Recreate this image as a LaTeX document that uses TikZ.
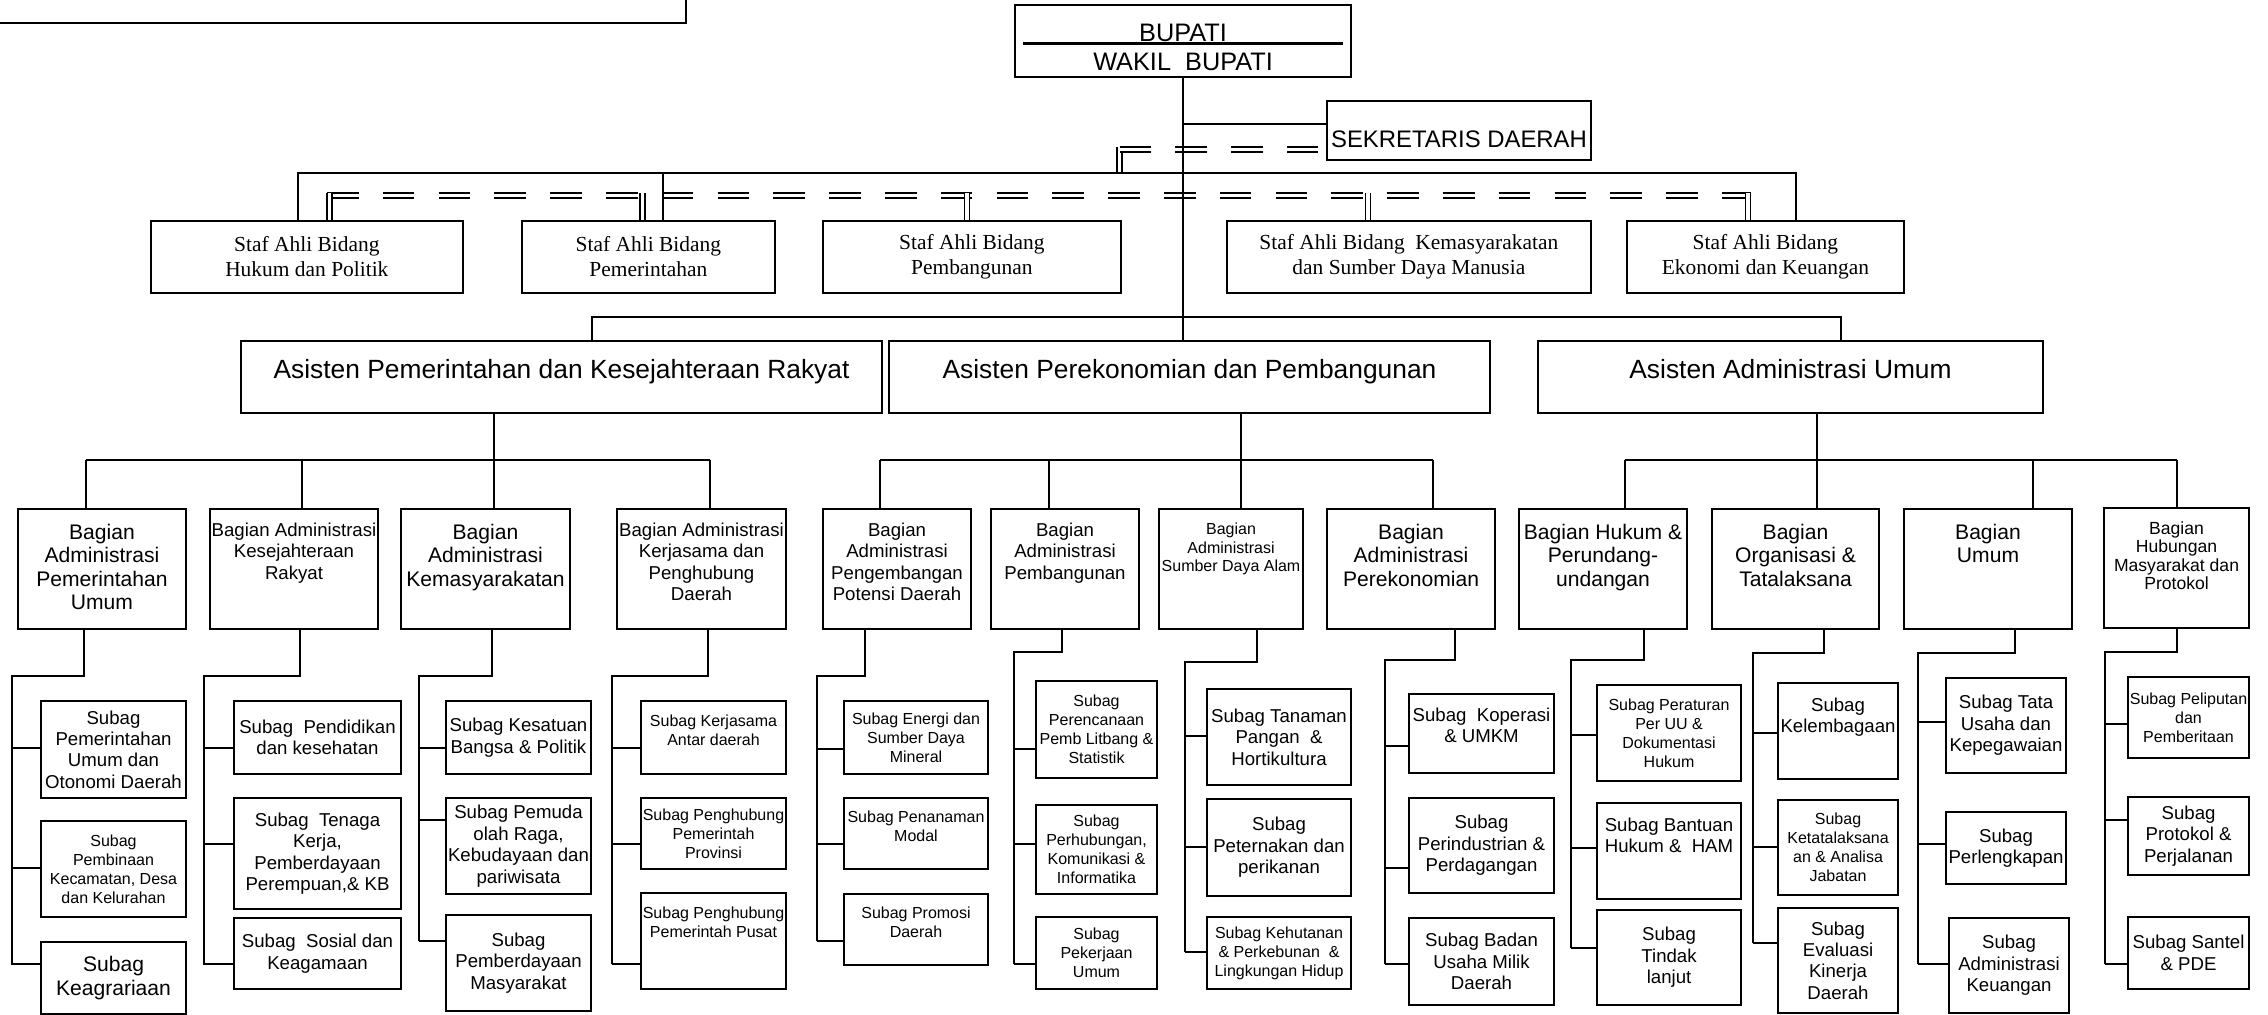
\documentclass[tikz,border=0pt]{standalone}
\usepackage{fontspec}
\setmainfont{Liberation Sans}
\newfontfamily\stafserif{Liberation Serif}
\usetikzlibrary{calc}

\newlength{\px}
\setlength{\px}{0.1mm}
% box text that starts at the top: width, height, first baseline, text
\newcommand{\cellt}[4]{\parbox[c][#2\px][t]{#1\px}{\centering\rule{0pt}{#3\px}#4}}
% bagian -> subag branch: bagian, drop x, turn y, spine x, spine end y, subag/y list
\newcommand{\subbranch}[6]{%
    \draw[link] (#2,0 |- #1.south) -- (#2,#3) -| (#4,#5);
    \foreach \s/\y in {#6} \draw[link] (#4,\y) -- (\s.west |- 0,\y);
}

\begin{document}
\begin{tikzpicture}[x=0.1mm, y=-0.1mm,
    every node/.style={inner sep=0pt},
    box/.style={draw, line width=0.2mm, anchor=north west, align=center},
    wh/.style 2 args={minimum width=#1*0.1mm, minimum height=#2*0.1mm},
    fsm/.style={font=\fontsize{4.55}{5.4}\selectfont},
    fmd/.style={font=\fontsize{5.3}{6.1}\selectfont},
    flg/.style={font=\fontsize{6}{6.7}\selectfont},
    staf/.style={box, line width=0.17mm, font=\stafserif\fontsize{6.1}{7.1}\selectfont},
    link/.style={line width=0.2mm},
    dbl/.style={double, double distance=0.33mm, line width=0.17mm},
    dashdbl/.style={dbl, dash pattern=on 3.15mm off 2.43mm}]
    \useasboundingbox (0,0) rectangle (2268,1014);

    % cut-off box at the top left
    \draw[line width=0.25mm] (-20,-60) rectangle (686,23);

    % Bupati and Sekretaris Daerah
    \node[box, font=\fontsize{7.2}{8.5}\selectfont] (bupati) at (1014,4)
        {\cellt{336}{72}{36}{BUPATI\\WAKIL~~BUPATI}};
    \draw[line width=0.3mm] ($(bupati.north west)+(9,39)$) -- ($(bupati.north east)+(-9,39)$);
    \node[box, font=\fontsize{6.8}{8}\selectfont] (sek) at (1326,100)
        {\cellt{264}{59}{46}{SEKRETARIS DAERAH}};

    % Staf ahli
    \node[staf, wh={312}{72}] (staf1) at (150,220) {Staf Ahli Bidang\\Hukum dan Politik};
    \node[staf, wh={253}{72}] (staf2) at (521,220) {Staf Ahli Bidang\\Pemerintahan};
    \node[staf, wh={298}{72}] (staf3) at (822,220) {Staf Ahli Bidang\\Pembangunan};
    \node[staf, wh={364}{72}] (staf4) at (1226,220) {Staf Ahli Bidang~~Kemasyarakatan\\dan Sumber Daya Manusia};
    \node[staf, wh={277}{72}] (staf5) at (1626,220) {Staf Ahli Bidang\\Ekonomi dan Keuangan};

    % Asisten
    \node[box, font=\fontsize{7.5}{9}\selectfont] (a1) at (240,340)
        {\cellt{641}{72}{37}{Asisten Pemerintahan dan Kesejahteraan Rakyat}};
    \node[box, font=\fontsize{7.5}{9}\selectfont] (a2) at (888,340)
        {\cellt{601}{72}{37}{Asisten Perekonomian dan Pembangunan}};
    \node[box, font=\fontsize{7.5}{9}\selectfont] (a3) at (1537,340)
        {\cellt{505}{72}{37}{Asisten Administrasi Umum}};

    % Bagian
    \node[box, flg] (b1) at (17,508) {\cellt{168}{120}{30}{Bagian\\Administrasi\\Pemerintahan\\Umum}};
    \node[box, fmd] (b2) at (209,508) {\cellt{168}{120}{27.5}{Bagian Administrasi\\Kesejahteraan\\Rakyat}};
    \node[box, flg] (b3) at (400,508) {\cellt{169}{120}{30}{Bagian\\Administrasi\\Kemasyarakatan}};
    \node[box, fmd] (b4) at (616,508) {\cellt{169}{120}{27.5}{Bagian Administrasi\\Kerjasama dan\\Penghubung\\Daerah}};
    \node[box, fmd] (b5) at (822,508) {\cellt{148}{120}{27.5}{Bagian\\Administrasi\\Pengembangan\\Potensi Daerah}};
    \node[box, fmd] (b6) at (990,508) {\cellt{148}{120}{27.5}{Bagian\\Administrasi\\Pembangunan}};
    \node[box, fsm] (b7) at (1158,508) {\cellt{144}{120}{25}{Bagian\\Administrasi\\Sumber Daya Alam}};
    \node[box, flg] (b8) at (1326,508) {\cellt{168}{120}{30}{Bagian\\Administrasi\\Perekonomian}};
    \node[box, flg] (b9) at (1518,508) {\cellt{168}{120}{30}{Bagian Hukum \&\\Perundang-\\undangan}};
    \node[box, flg] (b10) at (1711,508) {\cellt{167}{120}{30}{Bagian\\Organisasi \&\\Tatalaksana}};
    \node[box, flg] (b11) at (1903,508) {\cellt{168}{120}{30}{Bagian\\Umum}};
    \node[box, font=\fontsize{5}{5.3}\selectfont] (b12) at (2103,507) {\cellt{145}{120}{26}{Bagian\\Hubungan\\Masyarakat dan\\Protokol}};

    % Subag under Asisten Pemerintahan dan Kesejahteraan Rakyat
    \node[box, fmd, wh={145}{97}] (sub1a) at (40,700) {Subag\\Pemerintahan\\Umum dan\\Otonomi Daerah};
    \node[box, fsm, wh={145}{96}] (sub1b) at (40,820) {Subag\\Pembinaan\\Kecamatan, Desa\\dan Kelurahan};
    \node[box, flg, wh={145}{72}] (sub1c) at (40,941) {Subag\\Keagrariaan};
    \node[box, fmd, wh={167}{73}] (sub2a) at (233,700) {Subag~~Pendidikan\\dan kesehatan};
    \node[box, fmd, wh={167}{111}] (sub2b) at (233,797) {Subag~~Tenaga\\Kerja,\\Pemberdayaan\\Perempuan,\& KB};
    \node[box, fmd, wh={167}{71}] (sub2c) at (233,917) {Subag~~Sosial dan\\Keagamaan};
    \node[box, fmd, wh={145}{73}] (sub3a) at (445,700) {Subag Kesatuan\\Bangsa \& Politik};
    \node[box, fmd, wh={145}{96}] (sub3b) at (445,797) {Subag Pemuda\\olah Raga,\\Kebudayaan dan\\pariwisata};
    \node[box, fmd, wh={145}{96}] (sub3c) at (445,914) {Subag\\Pemberdayaan\\Masyarakat};
    \node[box, fsm] (sub4a) at (640,700) {\cellt{145}{73}{25}{Subag Kerjasama\\Antar daerah}};
    \node[box, fsm, wh={145}{71}] (sub4b) at (640,797) {Subag Penghubung\\Pemerintah\\Provinsi};
    \node[box, fsm] (sub4c) at (640,892) {\cellt{145}{96}{25.5}{Subag Penghubung\\Pemerintah Pusat}};

    % Subag under Asisten Perekonomian dan Pembangunan
    \node[box, fsm, wh={144}{73}] (sub5a) at (843,700) {Subag Energi dan\\Sumber Daya\\Mineral};
    \node[box, fsm] (sub5b) at (843,797) {\cellt{144}{71}{24}{Subag Penanaman\\Modal}};
    \node[box, fsm] (sub5c) at (843,893) {\cellt{144}{71}{24}{Subag Promosi\\Daerah}};
    \node[box, fsm, wh={121}{97}] (sub6a) at (1035,680) {Subag\\Perencanaan\\Pemb Litbang \&\\Statistik};
    \node[box, fsm, wh={121}{89}] (sub6b) at (1035,804) {Subag\\Perhubungan,\\Komunikasi \&\\Informatika};
    \node[box, fsm, wh={121}{72}] (sub6c) at (1035,916) {Subag\\Pekerjaan\\Umum};
    \node[box, fmd, wh={144}{96}] (sub7a) at (1206,688) {Subag Tanaman\\Pangan~~\&\\Hortikultura};
    \node[box, fmd, wh={144}{97}] (sub7b) at (1206,798) {Subag\\Peternakan dan\\perikanan};
    \node[box, fsm, wh={144}{72}] (sub7c) at (1206,916) {Subag Kehutanan\\\& Perkebunan~~\&\\Lingkungan Hidup};
    \node[box, fmd] (sub8a) at (1408,693) {\cellt{145}{79}{27}{Subag~~Koperasi\\\& UMKM}};
    \node[box, fmd, wh={145}{95}] (sub8b) at (1408,797) {Subag\\Perindustrian \&\\Perdagangan};
    \node[box, fmd, wh={145}{87}] (sub8c) at (1408,917) {Subag Badan\\Usaha Milik\\Daerah};

    % Subag under Asisten Administrasi Umum
    \node[box, fsm, wh={144}{96}] (sub9a) at (1596,684) {Subag Peraturan\\Per UU \&\\Dokumentasi\\Hukum};
    \node[box, fmd] (sub9b) at (1596,802) {\cellt{144}{96}{28}{Subag Bantuan\\Hukum \&~~HAM}};
    \node[box, fmd, wh={144}{95}] (sub9c) at (1596,909) {Subag\\Tindak\\lanjut};
    \node[box, fmd] (sub10a) at (1777,682) {\cellt{120}{96}{28}{Subag\\Kelembagaan}};
    \node[box, fsm, wh={120}{95}] (sub10b) at (1777,799) {Subag\\Ketatalaksana\\an \& Analisa\\Jabatan};
    \node[box, fmd, wh={120}{105}] (sub10c) at (1777,907) {Subag\\Evaluasi\\Kinerja\\Daerah};
    \node[box, fmd, wh={120}{95}] (sub11a) at (1945,677) {Subag Tata\\Usaha dan\\Kepegawaian};
    \node[box, fmd, wh={120}{72}] (sub11b) at (1945,811) {Subag\\Perlengkapan};
    \node[box, fmd, wh={120}{95}] (sub11c) at (1948,917) {Subag\\Administrasi\\Keuangan};
    \node[box, fsm, wh={121}{81}] (sub12a) at (2127,676) {Subag Peliputan\\dan\\Pemberitaan};
    \node[box, fmd, wh={121}{78}] (sub12b) at (2127,796) {Subag\\Protokol \&\\Perjalanan};
    \node[box, fmd, wh={121}{72}] (sub12c) at (2127,916) {Subag Santel\\\& PDE};

    % double dashed lines (staf ahli and sekretaris)
    \draw[dbl] (1119.5,147) -- (1119.5,173);
    \draw[dashdbl] (1119.5,149.5) -- (sek.west |- 0,149.5);
    \draw[dashdbl] (327,195.5) -- (1750.5,195.5);
    \foreach \s/\x in {staf1/329.5, staf2/642.5, staf3/967, staf4/1368, staf5/1748}
        \draw[dbl] (\x,193) -- (\x,0 |- \s.north);

    % solid line to staf ahli
    \coordinate (stafL) at (298,173);
    \coordinate (stafR) at (1796,173);
    \draw[link] (stafL |- staf1.north) -- (stafL) -- (stafR) -- (stafR |- staf5.north);
    \draw[link] (663,173) -- (663,0 |- staf2.north);

    % main line and sekretaris
    \draw[link] (bupati.south) -- (bupati.south |- a2.north);
    \coordinate (jsek) at (1182,124);
    \draw[link] (jsek) -- (jsek -| sek.west);

    % asisten line
    \coordinate (asL) at (592,317);
    \coordinate (asR) at (1841,317);
    \draw[link] (asL |- a1.north) -- (asL) -- (asR) -- (asR |- a3.north);

    % asisten -> bagian
    \draw[link] (494,0 |- a1.south) -- (494,460);
    \draw[link] (86,460) -- (710,460);
    \foreach \b/\x in {b1/86, b2/302, b3/494, b4/710}
        \draw[link] (\x,460) -- (\x,0 |- \b.north);
    \draw[link] (1241,0 |- a2.south) -- (1241,460);
    \draw[link] (880,460) -- (1433,460);
    \foreach \b/\x in {b5/880, b6/1049, b7/1241, b8/1433}
        \draw[link] (\x,460) -- (\x,0 |- \b.north);
    \draw[link] (1817,0 |- a3.south) -- (1817,460);
    \draw[link] (1625,460) -- (2177,460);
    \foreach \b/\x in {b9/1625, b10/1817, b11/2033, b12/2177}
        \draw[link] (\x,460) -- (\x,0 |- \b.north);

    % bagian -> subag
    \subbranch{b1}{84}{676}{12}{965}{sub1a/748, sub1b/868, sub1c/964}
    \subbranch{b2}{300}{676}{204}{965}{sub2a/748, sub2b/844, sub2c/964}
    \subbranch{b3}{492}{676}{419}{941}{sub3a/748, sub3b/820, sub3c/941}
    \subbranch{b4}{708}{676}{612}{964}{sub4a/748, sub4b/844, sub4c/964}
    \subbranch{b5}{865}{676}{817}{941}{sub5a/749, sub5b/844, sub5c/941}
    \subbranch{b6}{1062}{652}{1014}{964}{sub6a/749, sub6b/844, sub6c/964}
    \subbranch{b7}{1257}{662}{1185}{952}{sub7a/736, sub7b/847, sub7c/952}
    \subbranch{b8}{1455}{660}{1385}{964}{sub8a/746, sub8b/868, sub8c/964}
    \subbranch{b9}{1644}{660}{1571}{948}{sub9a/735, sub9b/848, sub9c/948}
    \subbranch{b10}{1824}{653}{1753}{943}{sub10a/733, sub10b/847, sub10c/943}
    \subbranch{b11}{2015}{653}{1918}{964}{sub11a/722, sub11b/844, sub11c/964}
    \subbranch{b12}{2177}{652}{2105}{964}{sub12a/724, sub12b/820, sub12c/964}
\end{tikzpicture}
\end{document}
